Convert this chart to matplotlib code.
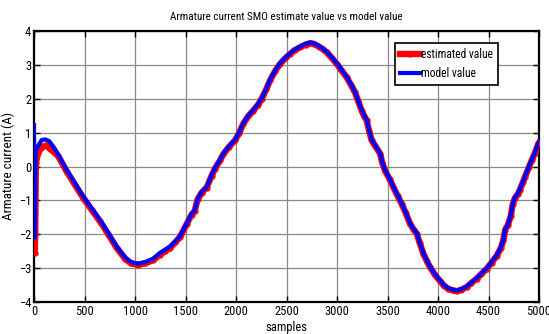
import matplotlib
matplotlib.use("Agg")
import matplotlib.pyplot as plt
from matplotlib import font_manager

# ---- data ----
model_samples = [0, 8, 15, 43, 76, 110, 150, 200, 241, 324, 406, 488, 571, 653, 736, 818,
                 901, 960, 1030, 1100, 1181, 1247, 1300, 1347, 1400, 1446, 1512, 1560, 1590,
                 1620, 1660, 1710, 1759, 1790, 1842, 1874, 1930, 1990, 2030, 2072, 2120, 2171,
                 2220, 2254, 2300, 2337, 2390, 2436, 2490, 2535, 2580, 2634, 2690, 2733, 2770,
                 2815, 2860, 2898, 2950, 2997, 3040, 3096, 3140, 3178, 3210, 3244, 3270, 3294,
                 3320, 3343, 3380, 3426, 3450, 3475, 3520, 3558, 3600, 3640, 3680, 3723, 3760,
                 3789, 3820, 3855, 3890, 3921, 3970, 4020, 4060, 4102, 4150, 4185, 4230, 4284,
                 4330, 4383, 4430, 4482, 4530, 4581, 4620, 4647, 4665, 4690, 4720, 4740, 4760,
                 4790, 4812, 4840, 4861, 4900, 4928, 4960, 4993, 5000]
model_values = [1.22, -2.1, 0.45, 0.62, 0.78, 0.8, 0.75, 0.55, 0.35, -0.1, -0.49, -0.88, -1.23,
                -1.57, -1.96, -2.36, -2.68, -2.82, -2.87, -2.82, -2.72, -2.55, -2.45, -2.36,
                -2.2, -2.05, -1.68, -1.4, -1.3, -0.95, -0.75, -0.6, -0.25, -0.05, 0.2, 0.38,
                0.6, 0.79, 1.0, 1.28, 1.5, 1.67, 1.85, 2.02, 2.3, 2.56, 2.85, 3.05, 3.22, 3.34,
                3.45, 3.54, 3.62, 3.66, 3.64, 3.57, 3.48, 3.39, 3.22, 3.05, 2.88, 2.65, 2.42,
                2.21, 1.95, 1.67, 1.5, 1.38, 1.05, 0.79, 0.62, 0.40, 0.12, -0.1, -0.35, -0.59,
                -0.85, -1.08, -1.35, -1.67, -1.85, -1.96, -2.25, -2.55, -2.78, -2.95, -3.18,
                -3.36, -3.5, -3.59, -3.64, -3.66, -3.62, -3.54, -3.42, -3.29, -3.15, -3.0,
                -2.82, -2.62, -2.4, -2.16, -1.85, -1.72, -1.45, -1.1, -0.92, -0.8, -0.66,
                -0.45, -0.29, 0.0, 0.2, 0.42, 0.69, 0.72]

est_samples = [0, 6, 12, 18, 40, 80, 120, 160, 200, 241, 324, 406, 488, 571, 653, 736, 818,
               901, 960, 1030, 1100, 1181, 1247, 1300, 1347, 1400, 1446, 1512, 1560, 1590,
               1620, 1660, 1710, 1759, 1790, 1842, 1874, 1930, 1990, 2030, 2072, 2120, 2171,
               2220, 2254, 2300, 2337, 2390, 2436, 2490, 2535, 2580, 2634, 2690, 2733, 2770,
               2815, 2860, 2898, 2950, 2997, 3040, 3096, 3140, 3178, 3210, 3244, 3270, 3294,
               3320, 3343, 3380, 3426, 3450, 3475, 3520, 3558, 3600, 3640, 3680, 3723, 3760,
               3789, 3820, 3855, 3890, 3921, 3970, 4020, 4060, 4102, 4150, 4185, 4230, 4284,
               4330, 4383, 4430, 4482, 4530, 4581, 4620, 4647, 4665, 4690, 4720, 4740, 4760,
               4790, 4812, 4840, 4861, 4900, 4928, 4960, 4993, 5000]
est_values = [0.3, -2.55, -2.0, 0.1, 0.4, 0.58, 0.62, 0.52, 0.42, 0.3, -0.15, -0.54, -0.93,
              -1.28, -1.62, -2.0, -2.4, -2.72, -2.86, -2.9, -2.86, -2.76, -2.6, -2.5, -2.4,
              -2.24, -2.08, -1.7, -1.42, -1.32, -0.97, -0.77, -0.62, -0.27, -0.07, 0.18, 0.36,
              0.58, 0.77, 0.98, 1.26, 1.48, 1.65, 1.83, 2.0, 2.28, 2.54, 2.83, 3.03, 3.2,
              3.32, 3.43, 3.52, 3.6, 3.64, 3.62, 3.55, 3.46, 3.37, 3.2, 3.03, 2.86, 2.63,
              2.4, 2.19, 1.93, 1.65, 1.48, 1.36, 1.03, 0.77, 0.6, 0.38, 0.1, -0.12, -0.37,
              -0.61, -0.87, -1.1, -1.37, -1.69, -1.87, -1.98, -2.27, -2.57, -2.8, -2.97,
              -3.2, -3.38, -3.52, -3.61, -3.66, -3.68, -3.64, -3.56, -3.44, -3.31, -3.17,
              -3.02, -2.84, -2.64, -2.42, -2.18, -1.87, -1.74, -1.47, -1.12, -0.94, -0.82,
              -0.68, -0.47, -0.31, -0.02, 0.18, 0.4, 0.67, 0.7]

x_ticks = [0, 500, 1000, 1500, 2000, 2500, 3000, 3500, 4000, 4500, 5000]
y_ticks = [-4, -3, -2, -1, 0, 1, 2, 3, 4]

title = "Armature current SMO estimate value vs model value"
xlabel = "samples"
ylabel = "Armature current (A)"
labels = ["estimated value", "model value"]

# ---- style ----
available = {f.name for f in font_manager.fontManager.ttflist}
fam = ["Liberation Sans Narrow", "Arial Narrow", "Roboto Condensed", "Archivo Narrow",
       "Asap Condensed", "Liberation Sans", "DejaVu Sans"]
fam = [f for f in fam if f in available] or ["DejaVu Sans"]
plt.rcParams["font.family"] = fam

fig = plt.figure(figsize=(5.49, 3.34), dpi=100)
ax = fig.add_axes([34 / 549, 1 - 302 / 334, 505 / 549, 271 / 334])

ax.plot(est_samples, est_values, color="red", linewidth=4.6, marker=".",
        markersize=7, label=labels[0], zorder=3, solid_joinstyle="round")
ax.plot(model_samples, model_values, color="blue", linewidth=3.0,
        label=labels[1], zorder=4, solid_joinstyle="round")

ax.set_xlim(0, 5000)
ax.set_ylim(-4, 4)
ax.set_xticks(x_ticks)
ax.set_yticks(y_ticks)
ax.grid(True, color="#8a8a8a", linewidth=0.9)
ax.set_axisbelow(True)
ax.tick_params(direction="in", length=4, width=1, top=True, right=True,
               labelsize=9, pad=2, colors="black")
for s in ax.spines.values():
    s.set_linewidth(1.6)
    s.set_color("black")

ax.set_title(title, fontsize=8, pad=8)
ax.set_xlabel(xlabel, fontsize=9, labelpad=2)
ax.set_ylabel(ylabel, fontsize=9.5, labelpad=3)

leg = ax.legend(loc="upper right", bbox_to_anchor=(0.919, 0.956), borderaxespad=0,
                fontsize=8.3, handlelength=1.75, handletextpad=0.15, borderpad=0.4,
                labelspacing=0.6, fancybox=False, framealpha=1, edgecolor="black",
                numpoints=1)
leg.get_frame().set_linewidth(1.2)

fig.savefig("out.png", dpi=100)
